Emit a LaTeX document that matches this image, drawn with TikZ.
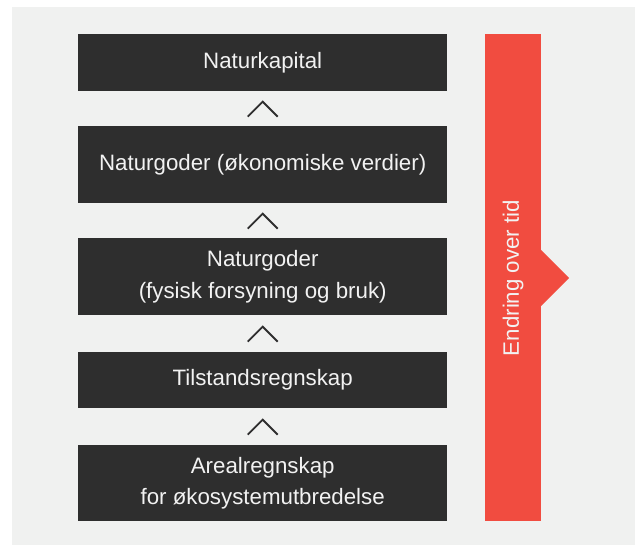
\documentclass[tikz,border=0pt]{standalone}
\usepackage{fontspec}
\setmainfont{Liberation Sans}
\usetikzlibrary{calc}
\definecolor{bggray}{HTML}{F0F1F0}
\definecolor{boxgray}{HTML}{2E2E2E}
\definecolor{barred}{HTML}{F14C40}
\definecolor{boxtext}{HTML}{F2F2F2}

\begin{document}
\begin{tikzpicture}[x=1pt,y=-1pt,
    box/.style={fill=boxgray,text=boxtext,anchor=north west,minimum width=369pt,
        align=center,inner sep=0pt,font=\fontsize{22.3}{31.5}\selectfont},
    chev/.style={draw=boxgray,line width=1.8pt}]
            \useasboundingbox (0,0) rectangle (635,545);
            \fill[bggray] (12,7) rectangle (635,545);
            % the boxes
            \node[box,minimum height=57pt] (kapital) at (78,34) {Naturkapital};
            \node[box,minimum height=77pt] (okonomi) at (78,126) {Naturgoder (økonomiske verdier)};
            \node[box,minimum height=77pt] (fysisk) at (78,238) {Naturgoder\\(fysisk forsyning og bruk)};
            \node[box,minimum height=56pt] (tilstand) at (78,352) {Tilstandsregnskap};
            \node[box,minimum height=76pt] (areal) at (78,445) {Arealregnskap\\for økosystemutbredelse};
            % chevrons between the boxes
            \foreach \lo/\hi in {okonomi/kapital, fysisk/okonomi, tilstand/fysisk, areal/tilstand} {
                \coordinate (m) at ($(\hi.south)!0.5!(\lo.north)$);
                \draw[chev] ($(m)+(-15,8)$) -- ($(m)+(0,-7)$) -- ($(m)+(15,8)$);
            }
            % the red bar with its arrow
            \coordinate (bartop) at (485,34);
            \coordinate (barbot) at (541,521);
            \fill[barred] (bartop) rectangle (barbot);
            \fill[barred] (541,250) -- (569,278) -- (541,306) -- cycle;
            \node[rotate=90,text=boxtext,font=\fontsize{22.3}{26}\selectfont] (tid) at (513,278) {Endring over tid};
        \end{tikzpicture}
\end{document}
